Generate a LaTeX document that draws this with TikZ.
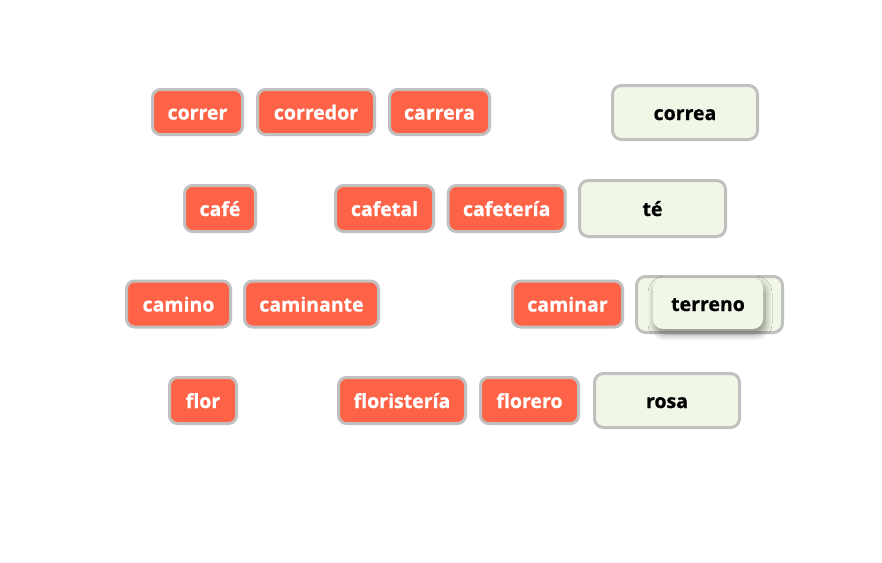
\documentclass[tikz,border=0pt]{standalone}
\usepackage{fontspec}
\setmainfont[FakeBold=0.8]{Open Sans}
\usetikzlibrary{shadows.blur}
\definecolor{tomatoc}{HTML}{FF6347}
\definecolor{borderc}{HTML}{C0C0C0}
\definecolor{paleg}{HTML}{F0F7E6}
\tikzset{
  lbl/.style={font=\fontsize{19.5}{22}\selectfont\bfseries, inner sep=0pt, text height=20.5pt, text depth=5.5pt},
  word/.style={lbl, draw=borderc, line width=3pt, fill=tomatoc, rounded corners=8pt,
    text=white, minimum height=46pt},
  target/.style={lbl, draw=borderc, line width=3pt, fill=paleg, rounded corners=9pt,
    text=black, minimum width=145pt, minimum height=54pt},
  chip/.style={lbl, fill=paleg, rounded corners=10pt, text=black,
    blur shadow={shadow xshift=2pt, shadow yshift=-5pt, shadow blur steps=12, shadow blur radius=7pt, shadow opacity=45}}
}
\begin{document}
\begin{tikzpicture}[x=1pt,y=-1pt]
\useasboundingbox (0,0) rectangle (882,562);
% row 1
\node[word, minimum width=90pt, minimum height=45pt] (correr) at (197.5,112) {correr};
\node[word, minimum width=117pt, minimum height=45pt] (corredor) at (316,112) {corredor};
\node[word, minimum width=100pt, minimum height=45pt] (carrera) at (439.5,112) {carrera};
\node[target] (correa) at (685,112.5) {correa};
% row 2
\node[word, minimum width=71pt] (cafe) at (220,208.5) {café};
\node[word, minimum width=98pt] (cafetal) at (384.5,208.5) {cafetal};
\node[word, minimum width=117pt] (cafeteria) at (506.7,208.5) {cafetería};
\node[target, minimum width=146pt, minimum height=56pt] (te) at (652.5,208.5) {té};
% row 3
\node[word, minimum width=104pt] (camino) at (178.5,304) {camino};
\node[word, minimum width=134pt] (caminante) at (311.5,304) {caminante};
\node[word, minimum width=110pt] (caminar) at (567.5,304) {caminar};
\node[target, minimum width=146pt, minimum height=56pt] (slot) at (709.5,304.5) {};
\node[chip, minimum width=110pt, minimum height=51pt] (terreno) at (708,303.5) {terreno};
% row 4
\node[word, minimum width=67pt] (flor) at (203,400.5) {flor};
\node[word, minimum width=127pt] (floristeria) at (402,400.5) {floristería};
\node[word, minimum width=98pt] (florero) at (529.5,400.5) {florero};
\node[target] (rosa) at (667,400.5) {rosa};
\end{tikzpicture}
\end{document}
